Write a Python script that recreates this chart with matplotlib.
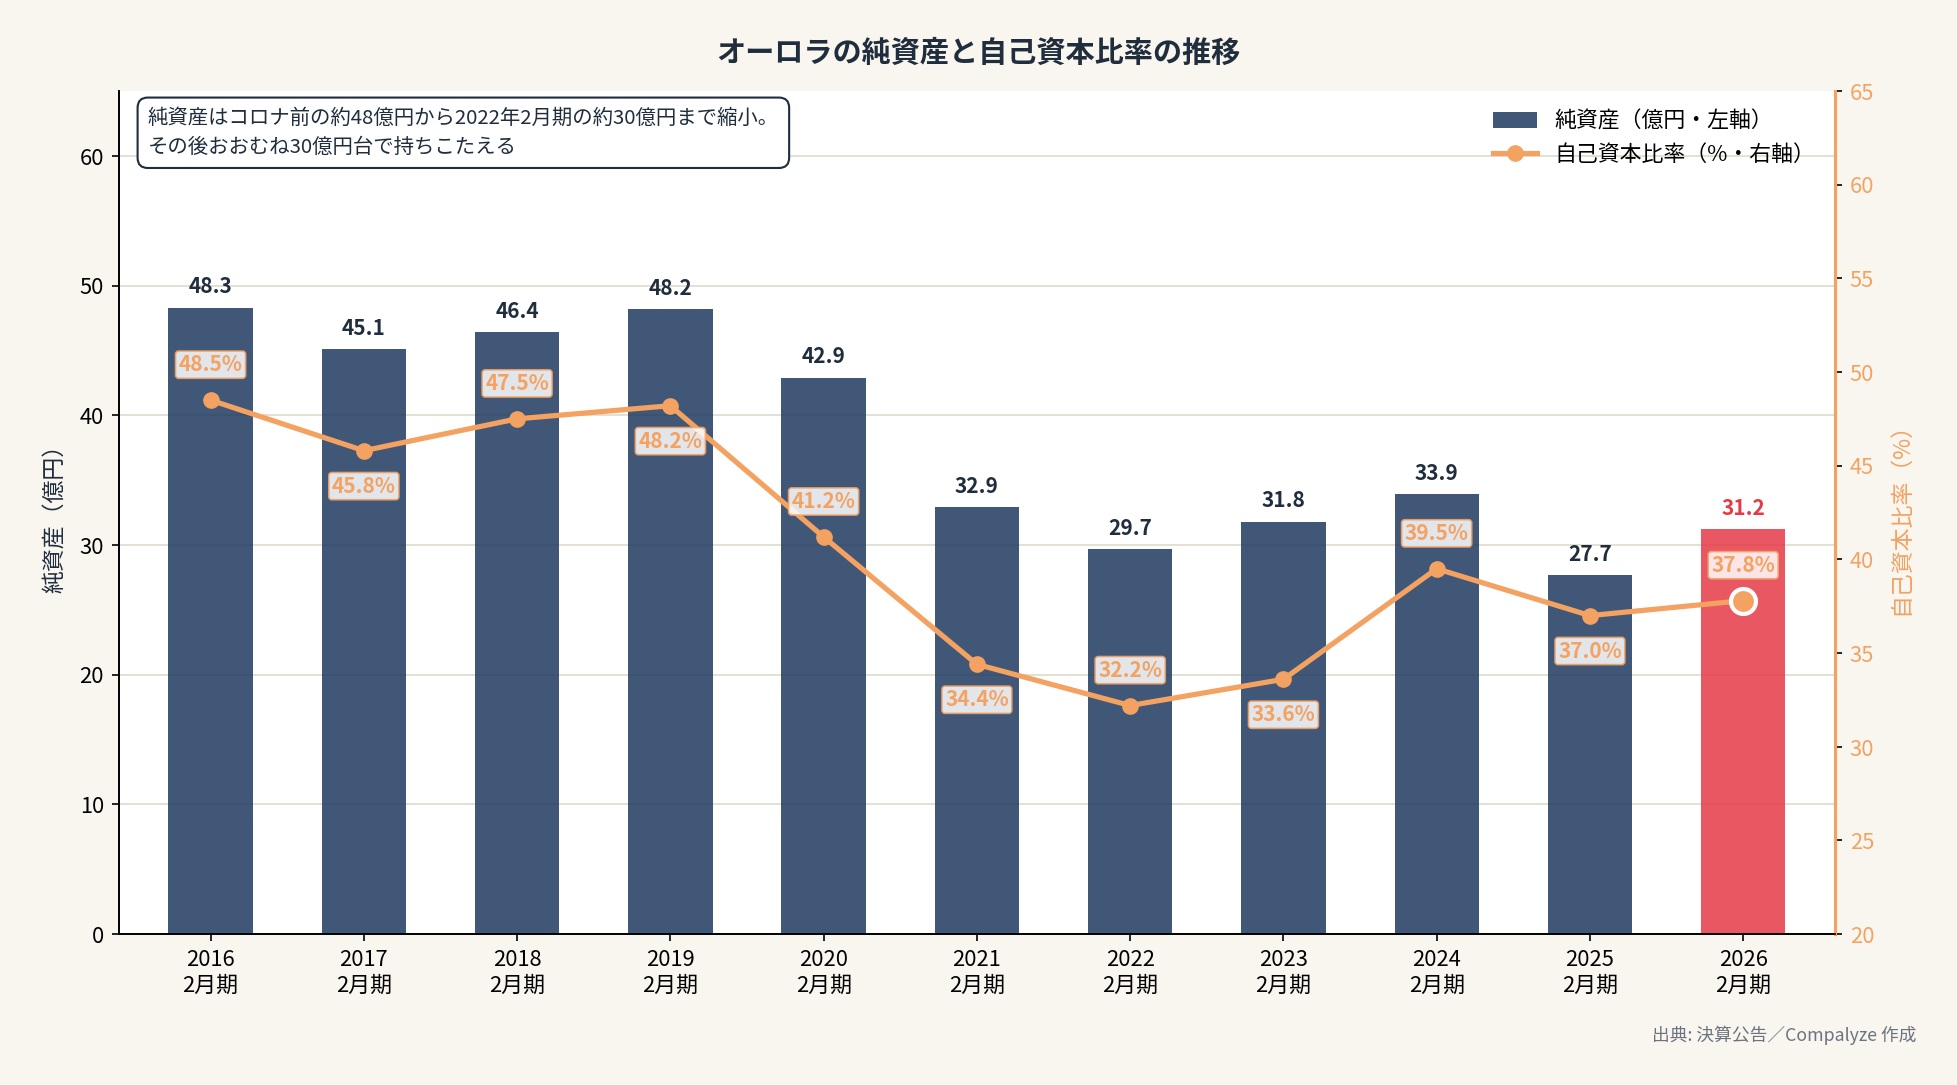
import matplotlib
matplotlib.use("Agg")
import matplotlib.pyplot as plt
import numpy as np

plt.rcParams["font.family"] = ["Noto Sans CJK JP", "DejaVu Sans"]

years = ["2016", "2017", "2018", "2019", "2020", "2021", "2022", "2023", "2024", "2025", "2026"]
net_assets = [48.3, 45.1, 46.4, 48.2, 42.9, 32.9, 29.7, 31.8, 33.9, 27.7, 31.2]
equity_ratio = [48.5, 45.8, 47.5, 48.2, 41.2, 34.4, 32.2, 33.6, 39.5, 37.0, 37.8]
tick_labels = [f"{y}\n2月期" for y in years]

C_BAR = "#1f3a5f"
C_HI = "#e63946"
C_LINE = "#f4a261"
C_TEXT = "#1f2d3d"
BG = "#f9f6f0"

fig, ax = plt.subplots(figsize=(13.05, 7.235), dpi=150)
fig.patch.set_facecolor(BG)
ax.set_facecolor("white")

x = np.arange(len(years))
colors = [C_BAR] * (len(years) - 1) + [C_HI]
bars = ax.bar(x, net_assets, 0.55, color=colors, alpha=0.85, zorder=2,
              label="純資産（億円・左軸）")
for i, bar in enumerate(bars):
    ax.text(bar.get_x() + bar.get_width() / 2, bar.get_height() + 0.8,
            f"{net_assets[i]:.1f}", ha="center", va="bottom", fontsize=10,
            fontweight="bold", color=C_HI if i == len(years) - 1 else C_TEXT)

ax.set_ylim(0, 65)
ax.set_yticks(np.arange(0, 61, 10))
ax.set_xlim(-0.6, 10.6)
ax.set_xticks(x)
ax.set_xticklabels(tick_labels, fontsize=10.5)
ax.tick_params(axis="y", labelsize=10.5)
ax.set_ylabel("純資産（億円）", fontsize=11, color=C_TEXT, labelpad=6)
ax.grid(axis="y", color="#e3ded2", lw=0.9, zorder=0)
ax.set_axisbelow(True)
ax.spines["top"].set_visible(False)

ax2 = ax.twinx()
line, = ax2.plot(x, equity_ratio, color=C_LINE, lw=2.5, marker="o", ms=7,
                 zorder=3, label="自己資本比率（%・右軸）")
ax2.plot(x[-1], equity_ratio[-1], "o", color=C_LINE, ms=12,
         mec="white", mew=2, zorder=4)
for i, v in enumerate(equity_ratio):
    dy = 17 if i % 2 == 0 else -17
    ax2.annotate(f"{v:.1f}%", (x[i], v), xytext=(0, dy), textcoords="offset points",
                 ha="center", va="center", fontsize=10, fontweight="bold",
                 color=C_LINE,
                 bbox=dict(boxstyle="round,pad=0.15", fc="white", ec=C_LINE,
                           lw=0.8, alpha=0.85))
ax2.set_ylim(20, 65)
ax2.set_yticks(np.arange(20, 66, 5))
ax2.tick_params(axis="y", labelsize=10.5, labelcolor=C_LINE)
ax2.set_ylabel("自己資本比率（%）", fontsize=11, color=C_LINE, labelpad=7)
ax2.spines["top"].set_visible(False)
ax2.spines["right"].set_color(C_LINE)
ax2.spines["right"].set_linewidth(1.5)

h1, l1 = ax.get_legend_handles_labels()
h2, l2 = ax2.get_legend_handles_labels()
ax2.legend(h1 + h2, l1 + l2, loc="upper right", frameon=False, fontsize=10.5)

ax.text(0.017, 0.98,
        "純資産はコロナ前の約48億円から2022年2月期の約30億円まで縮小。\nその後おおむね30億円台で持ちこたえる",
        transform=ax.transAxes, ha="left", va="top", fontsize=9.8, color=C_TEXT,
        linespacing=1.5,
        bbox=dict(boxstyle="round,pad=0.5", fc="white", ec=C_TEXT, lw=1))

fig.suptitle("オーロラの純資産と自己資本比率の推移", fontsize=14,
             fontweight="bold", color=C_TEXT, y=0.965)
fig.text(0.979, 0.046, "出典: 決算公告／Compalyze 作成", ha="right", va="center",
         fontsize=8.5, color="#6b7280")

fig.subplots_adjust(left=0.0606, right=0.9375, top=0.916, bottom=0.139)
fig.savefig("out.png", dpi=150, facecolor=BG)
